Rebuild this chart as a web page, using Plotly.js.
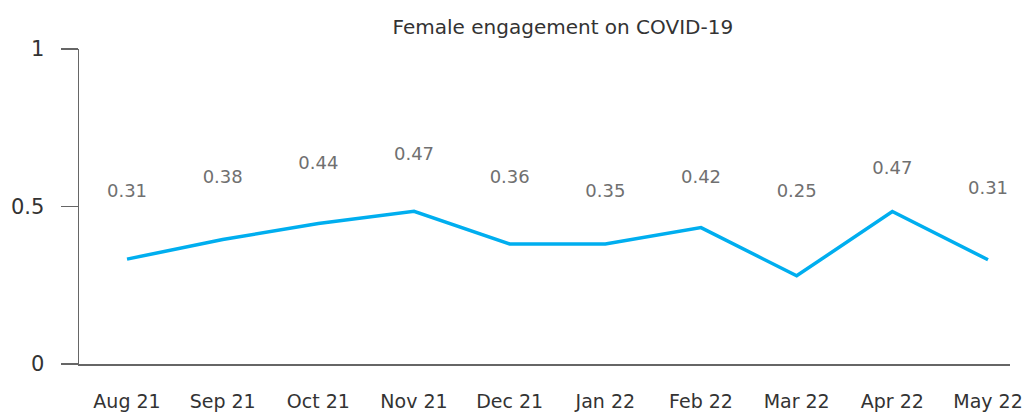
<!DOCTYPE html>
<html>
<head>
<meta charset="utf-8">
<script src="https://cdn.plot.ly/plotly-3.0.1.min.js"></script>
<style>html,body{margin:0;padding:0;background:#fff;}#chart{width:1029px;height:412px;}</style>
</head>
<body>
<div id="chart"></div>
<script>
const months = ["Aug 21","Sep 21","Oct 21","Nov 21","Dec 21","Jan 22","Feb 22","Mar 22","Apr 22","May 22"];
const engagement = [0.333,0.395,0.446,0.485,0.381,0.381,0.433,0.280,0.484,0.331];
const labelTexts = ["0.31","0.38","0.44","0.47","0.36","0.35","0.42","0.25","0.47","0.31"];
const labelLevels = [0.546,0.588,0.632,0.661,0.588,0.546,0.588,0.546,0.616,0.553];
const yTicks = [0,0.5,1];
const yTickText = ["0","0.5","1"];

const FONT = "'DejaVu Sans', 'Liberation Sans', Arial, sans-serif";

const traces = [
  {
    x: months, y: engagement, type: "scatter", mode: "lines",
    line: {color: "#00AEEF", width: 3.5},
    hoverinfo: "skip", showlegend: false
  },
  {
    x: months, y: labelLevels, type: "scatter", mode: "text",
    text: labelTexts, textposition: "middle center",
    textfont: {family: FONT, size: 18, color: "#707070"},
    hoverinfo: "skip", showlegend: false
  }
];

const layout = {
  width: 1029, height: 412,
  margin: {l: 79, r: 19, t: 49, b: 48, pad: 0},
  paper_bgcolor: "#fff", plot_bgcolor: "#fff",
  font: {family: FONT, color: "#333"},
  title: {text: "Female engagement on COVID-19", x: 0.547, xref: "container", y: 0.935, yref: "container",
          xanchor: "center", yanchor: "middle", font: {family: FONT, size: 20, color: "#333"}},
  xaxis: {
    type: "category", range: [-0.502, 9.23],
    showgrid: false, zeroline: false,
    showline: true, linecolor: "#666", linewidth: 1.5,
    ticks: "", ticklabelstandoff: 20,
    tickfont: {family: FONT, size: 19, color: "#333"},
    fixedrange: true
  },
  yaxis: {
    range: [0, 1], tickvals: yTicks, ticktext: yTickText,
    showgrid: false, zeroline: false,
    showline: true, linecolor: "#666", linewidth: 1.5,
    ticks: "outside", ticklen: 17, tickwidth: 1.5, tickcolor: "#666",
    ticklabelstandoff: 12,
    tickfont: {family: FONT, size: 21, color: "#333"},
    fixedrange: true
  }
};

Plotly.newPlot("chart", traces, layout, {displayModeBar: false, staticPlot: true});
</script>
</body>
</html>
